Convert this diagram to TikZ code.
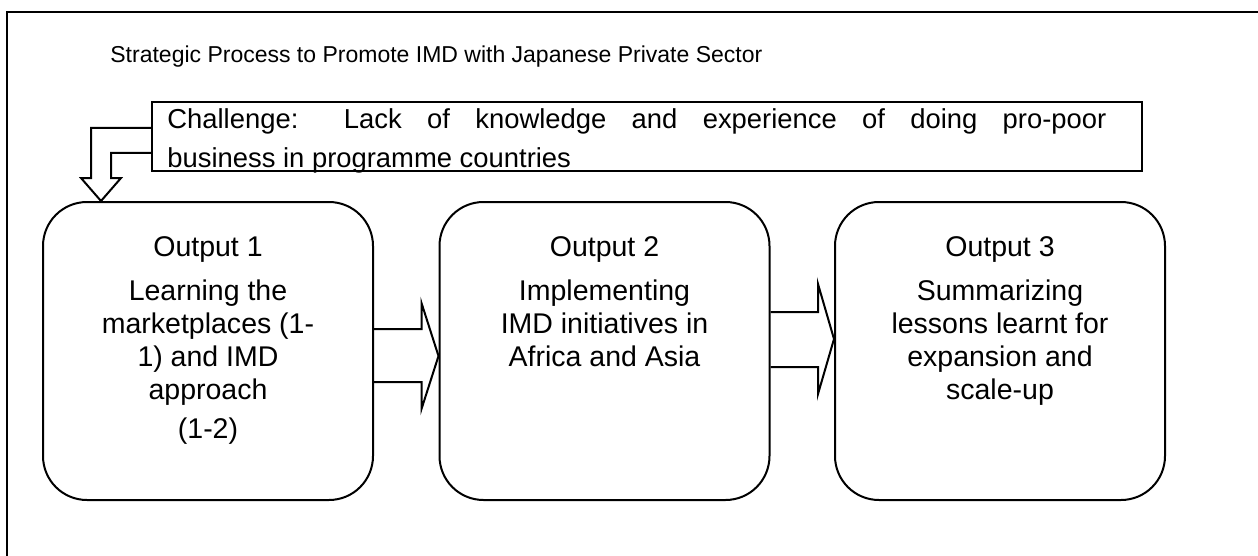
\documentclass[tikz,border=0pt]{standalone}
\usepackage{fontspec}
\setmainfont{Liberation Sans}
\usetikzlibrary{calc,positioning}

\begin{document}
\begin{tikzpicture}[x=0.5pt,y=-0.5pt,
  frame/.style={draw,line width=1pt},
  outbox/.style={draw,line width=1pt,rounded corners=22pt,minimum width=165pt,minimum height=149pt},
  outtext/.style={align=center,inner sep=0pt,anchor=north,font=\fontsize{14.25}{16.5}\selectfont},
  chalbox/.style={draw,line width=1pt,minimum width=495pt,minimum height=34.5pt},
  blockarrow/.style={draw,line width=1pt,line join=miter}]
  \useasboundingbox (0,0) rectangle (1258,556);
  \draw[frame] (7,12) rectangle (1320,640);
  \node[anchor=base west,inner sep=0pt,font=\fontsize{11.5}{14}\selectfont] (title) at (110,63) {Strategic Process to Promote IMD with Japanese Private Sector};
  % challenge
  \node[chalbox] (chal) at (647,136.5) {};
  \node[anchor=north west,inner sep=0pt,align=left,font=\fontsize{13.7}{19.5}\selectfont] (chaltxt) at ($(chal.north west)+(16,7)$)
    {\makebox[469.5pt][s]{Challenge: Lack of knowledge and experience of doing pro-poor}\\business in programme countries};
  % outputs
  \node[outbox] (out1) at (208,351) {};
  \node[outbox] (out2) at (604.5,351) {};
  \node[outbox] (out3) at (1000,351) {};
  \node[outtext] (txt1) at ($(out1.north)+(0,35)$) {Output 1\\[5.5pt]Learning the\\marketplaces (1-\\1) and IMD\\approach\\[3pt](1-2)};
  \node[outtext] (txt2) at ($(out2.north)+(0,35)$) {Output 2\\[5.5pt]Implementing\\IMD initiatives in\\Africa and Asia};
  \node[outtext] (txt3) at ($(out3.north)+(0,35)$) {Output 3\\[5.5pt]Summarizing\\lessons learnt for\\expansion and\\scale-up};
  % arrows
  \coordinate (tip) at ($(out1.north west)+(59,0)$);
  \draw[blockarrow] ($(chal.west)+(0,-8.5)$) -| ($(tip)+(-10,-23)$) -- ++(-10,0) -- (tip)
    -- ($(tip)+(20,-23)$) -- ++(-10,0) |- ($(chal.west)+(0,16.5)$);
  \draw[blockarrow] ($(out1.east)+(0,-22)$) -- ($(out2.west)+(-17,-22)$) -- ++(0,-26)
    -- ($(out2.west)+(0,5)$) -- ($(out2.west)+(-17,58)$) -- ++(0,-27) -- ($(out1.east)+(0,31)$);
  \draw[blockarrow] ($(out2.east)+(0,-39)$) -- ($(out3.west)+(-16,-39)$) -- ($(out3.west)+(-16,-67)$)
    -- ($(out3.west)+(0,-12)$) -- ($(out3.west)+(-16,43)$) -- ($(out3.west)+(-16,16)$) -- ($(out2.east)+(0,16)$);
\end{tikzpicture}
\end{document}
